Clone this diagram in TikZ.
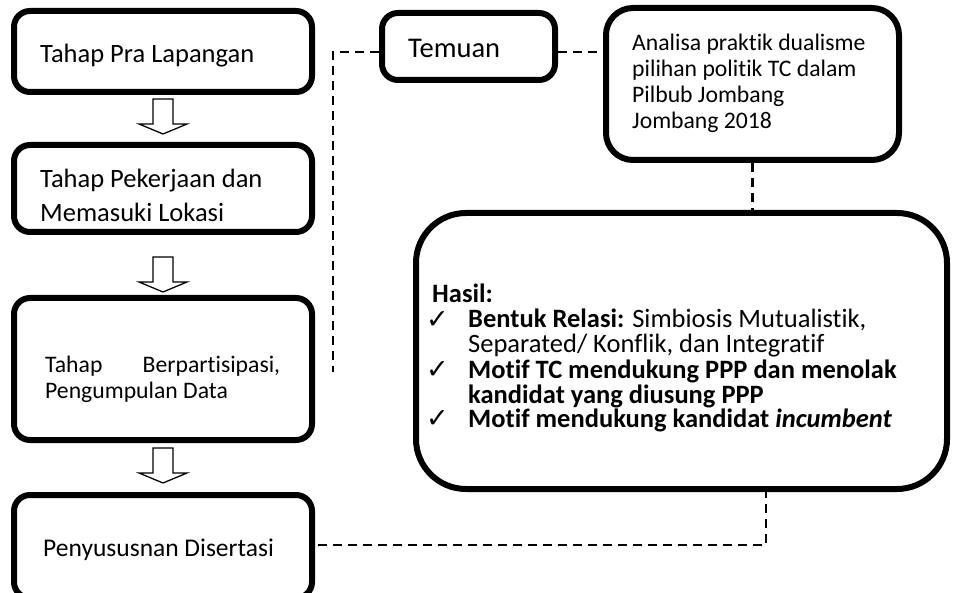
\documentclass[tikz,border=0pt]{standalone}
\usepackage{fontspec}
\setmainfont[Ligatures=NoCommon]{Carlito}
\newfontfamily\dvfont{DejaVu Sans}
\begin{document}
\begin{tikzpicture}[x=1pt,y=-1pt]
\tikzset{
  boxst/.style={draw, line width=6pt, rounded corners=16pt, inner sep=0pt, fill=white},
  dashst/.style={line width=2.5pt, dash pattern=on 9pt off 6pt},
  arrowst/.style={draw, line width=1.3pt, fill=white, line join=miter},
  txt/.style={anchor=base west, inner sep=0pt},
  bigtxt/.style={txt, font=\fontsize{26.5}{30}\selectfont},
  midtxt/.style={txt, font=\fontsize{23.7}{28}\selectfont},
  hastxt/.style={txt, font=\fontsize{26.5}{28}\selectfont},
  chk/.style={txt, font=\dvfont\bfseries\fontsize{27}{28}\selectfont},
  blockarrow/.pic={\draw[arrowst] (-10,0) -- (10,0) -- (10,25) -- (24,25) -- (0,35) -- (-24,25) -- (-10,25) -- cycle;}
}
\useasboundingbox (0,0) rectangle (953,593);
\clip (0,0) rectangle (953,593);
\fill[white] (0,0) rectangle (953,593);

% left column boxes
\node[boxst, minimum width=298pt, minimum height=81pt] (b1) at (163,51.5) {};
\node[boxst, minimum width=298pt, minimum height=87pt] (b2) at (163,188.5) {};
\node[boxst, minimum width=298pt, minimum height=142pt] (b3) at (163,369) {};
\node[boxst, minimum width=298pt, minimum height=103pt] (b4) at (163,546.5) {};

\node[bigtxt] (t1) at (40,63) {Tahap Pra Lapangan};
\node[bigtxt] (t2a) at (40,188) {Tahap Pekerjaan dan};
\node[bigtxt] (t2b) at (40,222) {Memasuki Lokasi};
\node[midtxt] (t3a) at (45,373) {\makebox[235pt][s]{Tahap\hfill Berpartisipasi,}};
\node[midtxt] (t3b) at (45,399) {Pengumpulan Data};
\node[bigtxt, font=\fontsize{25.5}{30}\selectfont] (t4) at (43,556) {Penyususnan Disertasi};

% block arrows
\pic at (163,99) {blockarrow};
\pic at (163,257) {blockarrow};
\pic at (163,448) {blockarrow};

% Temuan
\node[boxst, minimum width=173pt, minimum height=67pt] (tem) at (468.5,46.5) {};
\node[bigtxt, font=\fontsize{28.5}{30}\selectfont] (ttem) at (408,58) {Temuan};

% Analisa
\node[boxst, rounded corners=27pt, minimum width=293pt, minimum height=152pt] (ana) at (752.5,84) {};
\node[midtxt] (ta1) at (632,51) {Analisa praktik dualisme};
\node[midtxt] (ta2) at (632,77) {pilihan politik TC dalam};
\node[midtxt] (ta3) at (632,103) {Pilbub Jombang};
\node[midtxt] (ta4) at (632,129) {Jombang 2018};

% Hasil
\node[boxst, rounded corners=50pt, minimum width=531pt, minimum height=276pt] (has) at (681.5,351) {};
\node[hastxt] (th0) at (432,303) {\bfseries Hasil:};
\node[chk] (c1) at (426,329) {✓};
\node[hastxt] (th1) at (468,328) {\textbf{Bentuk Relasi:} Simbiosis Mutualistik,};
\node[hastxt] (th2) at (468,353) {Separated/ Konflik, dan Integratif};
\node[chk] (c2) at (426,379) {✓};
\node[hastxt] (th3) at (468,378) {\bfseries Motif TC mendukung PPP dan menolak};
\node[hastxt] (th4) at (468,403) {\bfseries kandidat yang diusung PPP};
\node[chk] (c3) at (426,428) {✓};
\node[hastxt] (th5) at (468,427) {\bfseries Motif mendukung kandidat \textit{incumbent}};

% dashed connectors
\coordinate (lj) at (333,52);
\coordinate (lend) at (333,372);
\draw[dashst] ([yshift=-5.5pt]tem.west) -- (lj) -- (lend);
\draw[dashst] ([yshift=-5.5pt]tem.east) -- ([yshift=-5.5pt]tem.east -| ana.west);
\draw[dashst] (ana.south) -- (ana.south |- has.north);
\coordinate (hb) at (766,489);
\coordinate (hc) at (766,545);
\draw[dashst] (hb) -- (hc) -- (hc -| b4.east);
\end{tikzpicture}
\end{document}
